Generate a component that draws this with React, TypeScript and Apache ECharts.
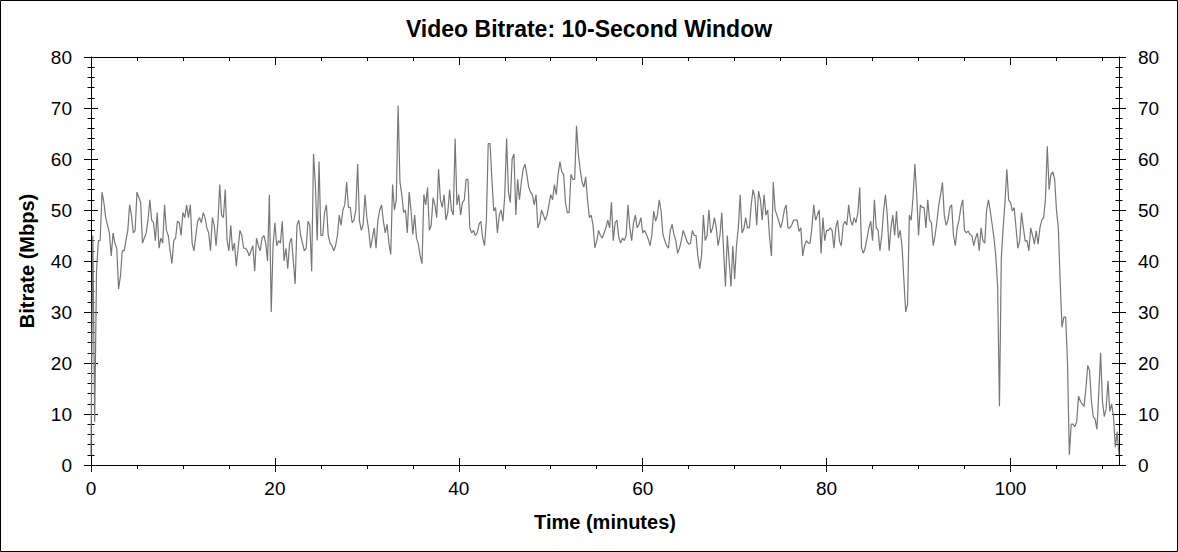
import { useEffect, useRef } from "react";
import * as echarts from "echarts";

const TITLE = "Video Bitrate: 10-Second Window";
const X_NAME = "Time (minutes)";
const Y_NAME = "Bitrate (Mbps)";
const STEP_MIN = 0.2; // sampling step of the series, in minutes
const X_MAX = 111.8;
const Y_MAX = 80;
const xMajorTicks = [0, 20, 40, 60, 80, 100];
const xMinorTicks = [5, 10, 15, 25, 30, 35, 45, 50, 55, 65, 70, 75, 85, 90, 95, 105, 110];

// Bitrate (Mbps), one value every 0.2 minutes
const bitrate0to19 = [
  2, 45, 8.5, 38, 44, 44, 53.5, 51.5, 48.5, 47,
  45.5, 41, 45.5, 43.5, 42.5, 34.5, 37, 42, 42, 44,
  46, 51, 49, 45.5, 46, 53.5, 52.5, 51.5, 43.5, 44.5,
  45.5, 48, 52, 48, 47.5, 44, 49.5, 42.5, 44.5, 43.5,
  51, 46, 45, 42, 39.5, 44, 44.5, 47.8, 47.5, 45,
  49.5, 48.5, 51, 48.5, 51, 43.5, 42, 45, 47.8, 48.5,
  47.5, 49.5, 48.5, 46.5, 45.5, 42, 48.5, 47, 43, 47.5,
  55, 49, 48.5, 54, 44, 42, 47, 42, 43.5, 39,
  42.5, 46, 45, 42.5, 42.5, 42, 41, 42, 43, 38,
  44.5, 43, 42, 44.5,
];
const bitrate19to38 = [
  45, 43.5, 40, 53, 30, 43, 47.5, 43, 44, 43.5,
  47.8, 40, 42.5, 38.5, 43.5, 44.5, 40, 35.5, 47, 48,
  45, 43.5, 42, 42.5, 47.8, 47, 38, 61, 55, 44,
  59.5, 45, 45, 49.5, 51, 45, 43.5, 43, 42, 43,
  45, 49, 47, 50, 51, 55.5, 50.5, 50.5, 47.5, 48,
  50, 59, 47.8, 46, 47.2, 53, 48.5, 46, 42.5, 44.5,
  46.5, 42.5, 48, 50, 51, 47.8, 45.5, 47.2, 43.5, 41.3,
  55, 50, 52, 70.5, 55.5, 53, 49.5, 50, 45.5, 53.5,
  50, 45.2, 49, 44.5, 43.3, 41, 39.5, 53, 51, 54.4,
  46, 47, 52.4, 51, 48.5,
];
const bitrate38to57 = [
  58, 52, 50.5, 53, 48, 49.5, 54, 50, 49, 64,
  51, 53, 49, 51.5, 52, 56, 56, 46.5, 45.5, 46,
  45, 45.5, 47.2, 47.8, 44.5, 43, 48, 63, 63, 56,
  49.8, 50.5, 45.5, 49, 50, 47.8, 53, 64, 53.5, 51.5,
  60, 61, 49, 56, 52, 55.5, 58, 59, 57, 54.5,
  53.5, 53, 51, 53, 46.5, 47.5, 50, 49, 48, 49,
  51, 53, 52, 55, 53, 57, 59.5, 57.5, 57, 51.5,
  49.5, 49.5, 57, 56, 56, 66.5, 61, 58, 55.5, 54.5,
  56.5, 52, 48.5, 49, 47, 42.6, 43.9, 46, 45, 44.5,
  45.5, 46.5, 48, 46.5, 51.5,
];
const bitrate57to76 = [
  44, 47.5, 48, 44.6, 43.5, 44.5, 44, 45, 51, 46.5,
  44, 47.5, 49, 46.5, 47.2, 48.5, 45.5, 46, 45.2, 44.3,
  43, 45.2, 49.8, 47.8, 49, 52, 49.8, 45.2, 44, 43,
  42.5, 46, 47.2, 45.2, 44, 41.5, 42.5, 44, 46, 45,
  43.9, 43.3, 43.5, 46, 45, 45, 41, 38.5, 41, 49,
  44, 45, 50, 45.5, 46.5, 48.5, 46.5, 43, 45, 49.5,
  42, 35, 45, 40, 35, 43, 36.5, 43, 46.5, 53,
  45.5, 46.3, 48.5, 46.5, 46.5, 51, 54, 52.5, 47, 53.7,
  52, 48, 53, 49, 50, 44.6, 41, 55.5, 50, 49,
  47.8, 46.5, 47.8, 50, 51,
];
const bitrate76to95 = [
  46.5, 46.5, 47, 48, 48, 48, 45.8, 46.5, 41, 43,
  44, 43.5, 43.5, 46.5, 51, 48, 49, 50, 41.5, 48.5,
  44, 46, 46, 46.5, 46, 42.5, 46.5, 48, 43.9, 43,
  47, 47.8, 47, 51, 48, 47, 48.5, 47.5, 49.5, 54.4,
  42.6, 41.5, 42.6, 44.5, 46.5, 47.8, 44, 52, 46.5, 46,
  42, 45, 49.8, 53, 49, 42, 46.5, 49, 45, 49.8,
  44.5, 46, 43, 36.5, 30, 31.5, 49, 48, 52.5, 59,
  53, 45, 51, 50.5, 50.5, 46.5, 52, 48, 47.5, 43,
  45, 47.8, 51, 53, 55.4, 49, 47, 48, 50.5, 51,
  45, 43, 46.5, 48, 50.5,
];
const bitrate95to112 = [
  52, 46, 45.5, 45.9, 45.2, 45, 43, 44.5, 45.5, 42,
  46.5, 44, 43.5, 50, 52, 49.8, 47.2, 44.6, 41, 35,
  11.5, 40.5, 46.5, 51.5, 58, 52, 51.5, 49.8, 50.5, 46.5,
  42.5, 44, 49.5, 46.5, 43.9, 44, 42, 46.5, 45, 43.3,
  45.9, 43.3, 46.5, 48, 48.5, 52, 62.5, 54, 57, 57.5,
  56, 50, 46.5, 36, 27, 29, 29, 20, 2, 8,
  8, 7.5, 8.5, 13.5, 12.5, 12, 11.5, 15, 19.5, 18.5,
  12.5, 9.5, 9, 7, 14, 22, 12.5, 9.5, 11, 16.5,
  10.5, 12, 9.5, 3.5, 6.5, 2,
];

const FONT = '"Liberation Sans", Arial, Helvetica, sans-serif';
const BLACK = "#000000";
const LINE_GRAY = "#777777";

export default function App() {
  const ref = useRef<HTMLDivElement>(null);

  useEffect(() => {
    if (!ref.current) return;
    const chart = echarts.init(ref.current, null, { renderer: "svg" });

    const bitrate = [
      ...bitrate0to19,
      ...bitrate19to38,
      ...bitrate38to57,
      ...bitrate57to76,
      ...bitrate76to95,
      ...bitrate95to112,
    ];
    const points = bitrate.map((v, i) => [Math.round(i * STEP_MIN * 10) / 10, v]);

    const xBase = {
      type: "value" as const,
      min: 0,
      max: X_MAX,
      splitLine: { show: false },
      axisLine: { show: false, onZero: false, lineStyle: { color: BLACK, width: 1 } },
      axisLabel: { show: false },
      axisTick: { show: false },
    };
    const yBase = {
      type: "value" as const,
      min: 0,
      max: Y_MAX,
      interval: 10,
      splitLine: { show: false },
      axisLine: { show: false, onZero: false, lineStyle: { color: BLACK, width: 1 } },
      axisLabel: { show: false },
      axisTick: { show: false },
    };
    const tickStyle = { color: BLACK, width: 1 };
    const labelStyle = { color: BLACK, fontSize: 19, fontFamily: FONT };

    chart.setOption({
      animation: false,
      backgroundColor: "#ffffff",
      title: {
        text: TITLE,
        left: "center",
        top: 12,
        textStyle: { fontSize: 23, fontWeight: "bold", color: BLACK, fontFamily: FONT },
      },
      grid: { left: 91, top: 57, width: 1028, height: 408, containLabel: false, outerBoundsMode: "none" },
      xAxis: [
        {
          ...xBase,
          position: "bottom",
          axisLine: { show: true, onZero: false, lineStyle: { color: BLACK, width: 1 } },
          axisTick: { show: true, inside: false, length: 7, customValues: xMajorTicks, lineStyle: tickStyle },
          axisLabel: { show: true, customValues: xMajorTicks, margin: 14, ...labelStyle },
          name: X_NAME,
          nameLocation: "middle",
          nameGap: 47,
          nameTextStyle: { fontSize: 20, fontWeight: "bold", color: BLACK, fontFamily: FONT },
        },
        {
          ...xBase,
          position: "bottom",
          axisTick: { show: true, inside: true, length: 7, customValues: xMajorTicks, lineStyle: tickStyle },
        },
        {
          ...xBase,
          position: "bottom",
          axisTick: { show: true, inside: false, length: 4, customValues: xMinorTicks, lineStyle: tickStyle },
        },
        {
          ...xBase,
          position: "top",
          axisLine: { show: true, onZero: false, lineStyle: { color: BLACK, width: 1 } },
          axisTick: { show: true, inside: true, length: 8, customValues: xMajorTicks, lineStyle: tickStyle },
        },
        {
          ...xBase,
          position: "top",
          axisTick: { show: true, inside: true, length: 4, customValues: xMinorTicks, lineStyle: tickStyle },
        },
      ],
      yAxis: [
        {
          ...yBase,
          position: "left",
          axisLine: { show: true, onZero: false, lineStyle: { color: BLACK, width: 1 } },
          axisTick: { show: true, inside: false, length: 7, lineStyle: tickStyle },
          minorTick: { show: true, splitNumber: 5, length: 3.5, lineStyle: tickStyle },
          axisLabel: { show: true, margin: 19, ...labelStyle },
          name: Y_NAME,
          nameLocation: "middle",
          nameGap: 54,
          nameTextStyle: { fontSize: 20, fontWeight: "bold", color: BLACK, fontFamily: FONT },
        },
        {
          ...yBase,
          position: "left",
          axisTick: { show: true, inside: true, length: 7, lineStyle: tickStyle },
          minorTick: { show: true, splitNumber: 5, length: 3.5, lineStyle: tickStyle },
        },
        {
          ...yBase,
          position: "right",
          axisLine: { show: true, onZero: false, lineStyle: { color: BLACK, width: 1 } },
          axisTick: { show: true, inside: false, length: 7, lineStyle: tickStyle },
          minorTick: { show: true, splitNumber: 5, length: 3.5, lineStyle: tickStyle },
          axisLabel: { show: true, margin: 19, ...labelStyle },
        },
        {
          ...yBase,
          position: "right",
          axisTick: { show: true, inside: true, length: 7, lineStyle: tickStyle },
          minorTick: { show: true, splitNumber: 5, length: 3.5, lineStyle: tickStyle },
        },
      ],
      series: [
        {
          type: "line",
          xAxisIndex: 0,
          yAxisIndex: 0,
          data: points,
          showSymbol: false,
          symbol: "none",
          lineStyle: { color: LINE_GRAY, width: 1.2 },
          itemStyle: { color: LINE_GRAY },
          clip: true,
        },
      ],
      graphic: [
        {
          type: "rect",
          silent: true,
          z: 100,
          shape: { x: 0.5, y: 0.5, width: 1177, height: 551 },
          style: { fill: "none", stroke: BLACK, lineWidth: 1 },
        },
      ],
    });

    return () => chart.dispose();
  }, []);

  return (
    <div
      ref={ref}
      style={{ position: "fixed", left: 0, top: 0, width: 1178, height: 552, background: "#ffffff" }}
    />
  );
}
